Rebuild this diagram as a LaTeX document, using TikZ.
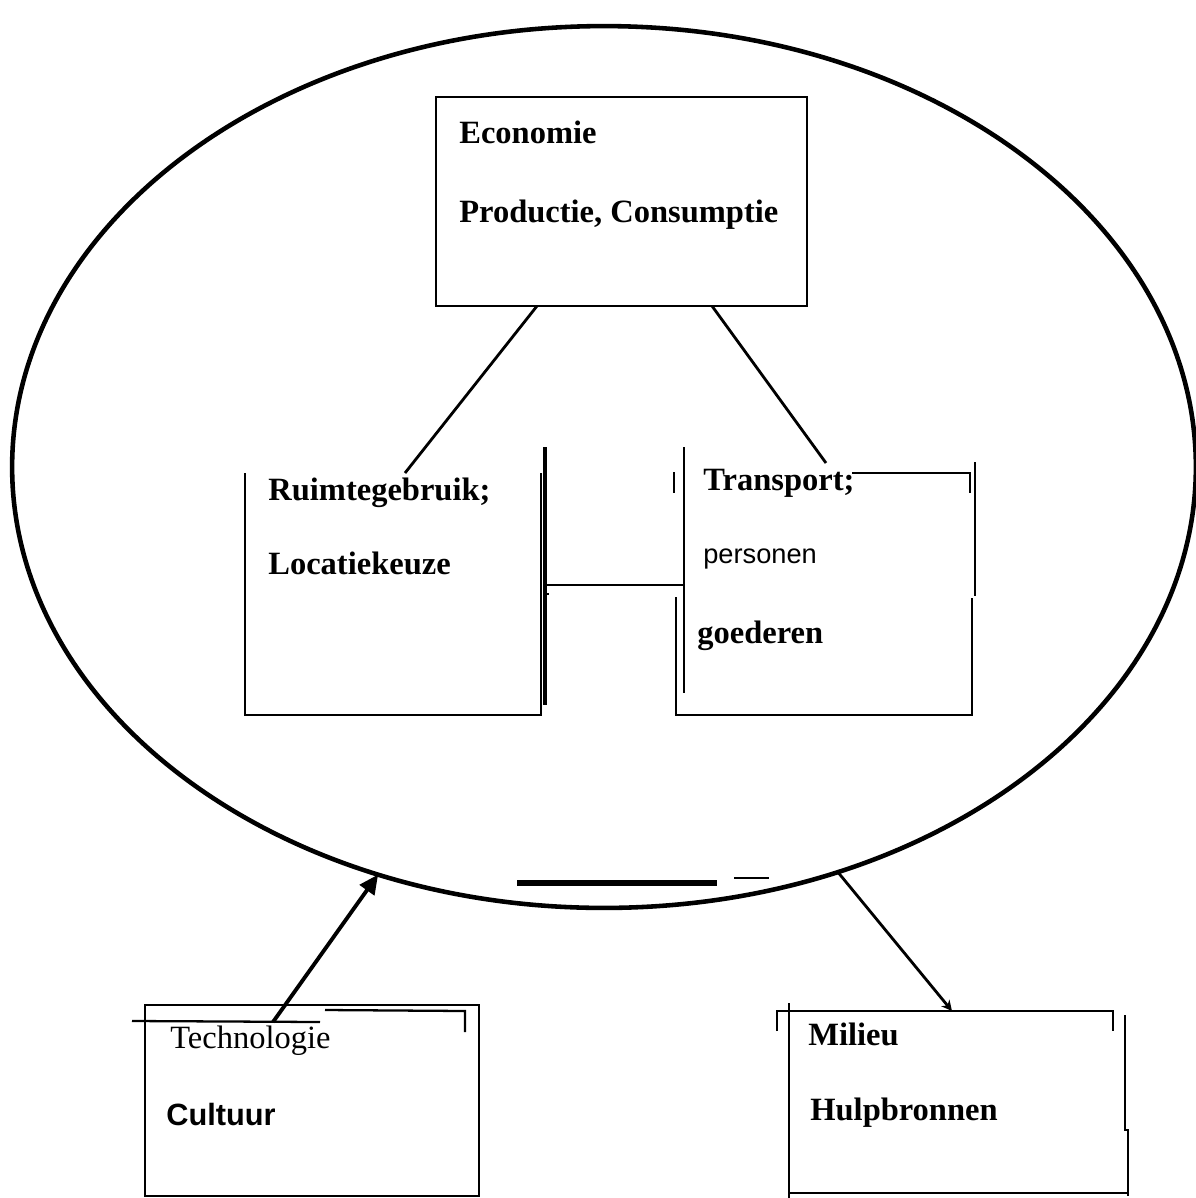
\documentclass[tikz,border=0pt]{standalone}
\usepackage{fontspec}
\setmainfont{Liberation Serif}
\setsansfont{Liberation Sans}
\usetikzlibrary{arrows.meta,shapes.geometric}

\begin{document}
\begin{tikzpicture}[
  x=0.02cm,y=-0.02cm,
  ring/.style={draw,ellipse,line width=2.6pt,inner sep=0pt,outer sep=0pt,minimum width=23.68cm,minimum height=17.64cm},
  box/.style={draw,line width=1.5pt,inner sep=0pt,outer sep=0pt},
  txt/.style={anchor=base west,inner sep=0pt,font=\fontsize{18.5}{21}\selectfont\bfseries},
  rtxt/.style={anchor=base west,inner sep=0pt,font=\fontsize{18.5}{21}\selectfont},
  stxt/.style={anchor=base west,inner sep=0pt,font=\fontsize{15.5}{18}\selectfont\sffamily},
  wire/.style={line width=1.3pt},
  push/.style={-{Triangle[length=11pt,width=10pt]},line width=2.2pt},
  pull/.style={-{Stealth[length=6pt,width=6pt]},line width=1.6pt},
]
\useasboundingbox (0,0) rectangle (1196,1198);

% the system
\node[ring] (sys) at (604,467) {};

% economie
\node[box,minimum width=7.42cm,minimum height=4.18cm] (eco) at (621.5,201.5) {};
\node[txt] (ecoA) at (459,143) {Economie};
\node[txt] (ecoB) at (459,222) {Productie, Consumptie};

% ruimtegebruik (open box)
\draw[wire] (245,473) -- (245,715) -- (541,715) -- (541,473);
\draw[line width=2.4pt] (545,447) -- (545,705);
\draw[wire] (545,594) -- (549,594);
\node[txt] (ruimA) at (268,500) {Ruimtegebruik;};
\node[txt] (ruimB) at (268,574) {Locatiekeuze};

% transport (open box)
\draw[wire] (684,447) -- (684,693);
\draw[wire] (674,472) -- (674,493);
\draw[wire] (852,473) -- (970,473) -- (970,493);
\draw[wire] (975,462) -- (975,596);
\draw[wire] (676,597) -- (676,715) -- (972,715) -- (972,598);
\node[txt] (trA) at (703,490) {Transport;};
\node[stxt] (trB) at (703,563) {personen};
\node[txt] (trC) at (697,643) {goederen};

% links inside
\coordinate (ecoL) at (537,306);
\coordinate (ecoR) at (712,306);
\coordinate (ruimTop) at (405,473);
\coordinate (trTop) at (826,463);
\coordinate (ruimR) at (545,585);
\coordinate (trL) at (684,585);
\draw[wire,line width=1.6pt] (ecoL) -- (ruimTop);
\draw[wire,line width=1.6pt] (ecoR) -- (trTop);
\draw[wire] (ruimR) -- (trL);

% bars under the ring
\draw[line width=3.4pt] (517,883) -- (717,883);
\draw[line width=1.3pt] (734,878) -- (769,878);

% technologie
\node[box,minimum width=6.68cm,minimum height=3.82cm] (tech) at (312,1100.5) {};
\draw[wire] (132,1021) -- (320,1022);
\draw[wire] (325,1010) -- (465,1011) -- (465,1032);
\node[rtxt] (techA) at (170,1048) {Technologie};
\node[txt,font=\fontsize{17.5}{21}\selectfont\sffamily\bfseries] (techB) at (166,1125) {Cultuur};
\coordinate (techTop) at (273,1022);
\draw[push] (techTop) -- (sys.241.9);

% milieu (open box)
\draw[wire] (789,1003) -- (789,1198);
\draw[wire] (777,1031) -- (777,1011) -- (1113,1011) -- (1113,1031);
\draw[wire] (1125,1015) -- (1125,1130) -- (1128,1130) -- (1128,1196);
\draw[wire] (789,1193) -- (1128,1193);
\node[txt] (milA) at (808,1045) {Milieu};
\node[txt] (milB) at (810,1120) {Hulpbronnen};
\coordinate (milTop) at (952,1011);
\draw[pull] (sys.-60.3) -- (milTop);
\end{tikzpicture}
\end{document}
